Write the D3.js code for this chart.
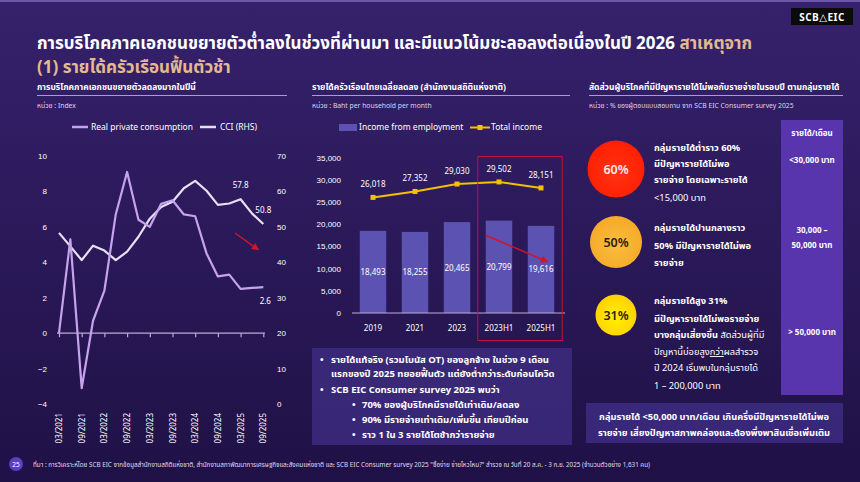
<!DOCTYPE html>
<html>
<head>
<meta charset="utf-8">
<script src="https://cdn.jsdelivr.net/npm/d3@7"></script>
<style>
  html, body { margin: 0; padding: 0; background: #24144f; }
  svg { display: block; font-family: "Noto Sans Thai", "Noto Sans", "DejaVu Sans", sans-serif; }
  .tk { fill: #ffffff; font-size: 8px; }
  .b { font-weight: 700; }
</style>
</head>
<body>
<div id="chart"></div>
<script>
// ---- data ----
const quarters = [
  "03/2021","06/2021","09/2021","12/2021","03/2022","06/2022","09/2022","12/2022",
  "03/2023","06/2023","09/2023","12/2023","03/2024","06/2024","09/2024","12/2024",
  "03/2025","06/2025","09/2025"
];
const consumption = [0.0, 5.3, -3.1, 0.7, 2.4, 6.7, 9.1, 6.4, 6.0, 7.3, 7.5, 6.7, 6.6, 4.5, 3.2, 3.3, 2.5, 2.55, 2.6];
const cci         = [48.3, 44.5, 40.6, 44.7, 43.3, 40.6, 43.0, 47.2, 52.3, 55.6, 57.1, 60.9, 63.0, 60.2, 56.2, 56.6, 57.8, 53.8, 50.8];
const leftTicks   = [-4, -2, 0, 2, 4, 6, 8, 10];
const rightTicks  = [0, 10, 20, 30, 40, 50, 60, 70];

const incomePeriods    = ["2019", "2021", "2023", "2023H1", "2025H1"];
const incomeEmployment = [18493, 18255, 20465, 20799, 19616];
const totalIncome      = [26018, 27352, 29030, 29502, 28151];
const incomeTicks      = [0, 5000, 10000, 15000, 20000, 25000, 30000, 35000];

const surveyGroups = ["low", "mid", "high"];
const surveyShares = [60, 50, 31];

const W = 860, H = 482;
const svg = d3.select("#chart").append("svg").attr("width", W).attr("height", H);
const defs = svg.append("defs");

// background
const bg = defs.append("linearGradient").attr("id", "bg").attr("x1", 0).attr("y1", 0).attr("x2", 0).attr("y2", 1);
bg.append("stop").attr("offset", "0%").attr("stop-color", "#36216c");
bg.append("stop").attr("offset", "100%").attr("stop-color", "#1f1146");
svg.append("rect").attr("width", W).attr("height", H).attr("fill", "url(#bg)");
svg.append("rect").attr("width", W).attr("height", 2).attr("fill", "#6b58a8");

const arrowM = defs.append("marker").attr("id", "arr").attr("viewBox", "0 0 10 10")
  .attr("refX", 8).attr("refY", 5).attr("markerWidth", 5).attr("markerHeight", 5).attr("orient", "auto");
arrowM.append("path").attr("d", "M0,0 L10,5 L0,10 z").attr("fill", "#d0142c");

// logo
svg.append("rect").attr("x", 791).attr("y", 8).attr("width", 62).attr("height", 17).attr("fill", "#0b0b0b");
svg.append("text").attr("x", 822).attr("y", 20.5).attr("text-anchor", "middle")
  .attr("fill", "#fff").attr("font-size", 10).attr("class", "b").attr("letter-spacing", 0.5).text("SCB\u25B3EIC");

// title
const title = svg.append("text").attr("x", 37).attr("y", 49).attr("font-size", 17).attr("class", "b").attr("fill", "#fff");
title.append("tspan").text("การบริโภคภาคเอกชนขยายตัวต่ำลงในช่วงที่ผ่านมา และมีแนวโน้มชะลอลงต่อเนื่องในปี 2026 ");
title.append("tspan").attr("fill", "#e3b98f").text("สาเหตุจาก");
svg.append("text").attr("x", 37).attr("y", 73).attr("font-size", 17).attr("class", "b")
  .attr("fill", "#e3b98f").text("(1) รายได้ครัวเรือนฟื้นตัวช้า");

function panelHead(x, x2, t, unit) {
  svg.append("text").attr("x", x).attr("y", 90).attr("font-size", 8.5).attr("class", "b").attr("fill", "#fff").text(t);
  svg.append("line").attr("x1", x).attr("x2", x2).attr("y1", 95.5).attr("y2", 95.5)
    .attr("stroke", "#a99cd0").attr("stroke-width", 1);
  svg.append("text").attr("x", x).attr("y", 108).attr("font-size", 6.8).attr("fill", "#ddd6ef").text(unit);
}

// ================= LEFT: consumption vs CCI =================
panelHead(37, 287, "การบริโภคภาคเอกชนขยายตัวลดลงมากในปีนี้", "หน่วย : Index");

const xq = d3.scalePoint().domain(quarters).range([59, 263.3]);
const yL = d3.scaleLinear().domain([-4, 10]).range([404, 156]);
const yR = d3.scaleLinear().domain([0, 70]).range([404, 156]);

// legend
const lg = svg.append("g").attr("font-size", 8.5).attr("fill", "#fff");
lg.append("line").attr("x1", 72).attr("x2", 88).attr("y1", 127).attr("y2", 127).attr("stroke", "#c6a3ec").attr("stroke-width", 2.5);
lg.append("text").attr("x", 91).attr("y", 130).text("Real private consumption");
lg.append("line").attr("x1", 200).attr("x2", 216).attr("y1", 127).attr("y2", 127).attr("stroke", "#e6e0f0").attr("stroke-width", 2.5);
lg.append("text").attr("x", 220).attr("y", 130).text("CCI (RHS)");

// y axes as labels
svg.append("g").attr("transform", "translate(47,0)")
  .call(d3.axisLeft(yL).tickValues(leftTicks).tickSize(0).tickPadding(0))
  .call(g => g.select(".domain").remove())
  .selectAll("text").attr("class", "tk").attr("font-family", null);
svg.append("g").attr("transform", "translate(277,0)")
  .call(d3.axisRight(yR).tickValues(rightTicks).tickSize(0).tickPadding(0))
  .call(g => g.select(".domain").remove())
  .selectAll("text").attr("class", "tk").attr("font-family", null);

// zero axis with ticks every 6 months
const xAxisL = svg.append("g").attr("transform", `translate(0,${yL(0)})`)
  .call(d3.axisBottom(xq).tickValues(quarters.filter((q, i) => i % 2 === 0)).tickSize(4).tickFormat(""))
  .call(g => g.select(".domain").attr("d", `M57,0H265`));
xAxisL.selectAll("line, path").attr("stroke", "#b9abd9").attr("stroke-width", 1.2);

// rotated x labels at bottom
svg.append("g").selectAll("text").data(quarters.filter((q, i) => i % 2 === 0)).join("text")
  .attr("class", "tk")
  .attr("transform", d => `translate(${xq(d) + 3},413) rotate(-90)`)
  .attr("text-anchor", "end").text(d => d);

const lineCons = d3.line().x((d, i) => xq(quarters[i])).y(d => yL(d));
const lineCci = d3.line().x((d, i) => xq(quarters[i])).y(d => yR(d));
svg.append("path").datum(cci).attr("d", lineCci).attr("fill", "none")
  .attr("stroke", "#e6e0f0").attr("stroke-width", 2.2).attr("stroke-linejoin", "round");
svg.append("path").datum(consumption).attr("d", lineCons).attr("fill", "none")
  .attr("stroke", "#c6a3ec").attr("stroke-width", 2.2).attr("stroke-linejoin", "round");

const lastI = quarters.length - 1;
const valLab = svg.append("g").attr("class", "tk").attr("font-size", 8.5);
valLab.append("text").attr("x", xq(quarters[16])).attr("y", yR(cci[16]) - 11).attr("text-anchor", "middle").text(cci[16].toFixed(1));
valLab.append("text").attr("x", xq(quarters[lastI])).attr("y", yR(cci[lastI]) - 11).attr("text-anchor", "middle").text(cci[lastI].toFixed(1));
valLab.append("text").attr("x", xq(quarters[lastI]) + 2).attr("y", yL(consumption[lastI]) + 17).attr("text-anchor", "middle").text(consumption[lastI].toFixed(1));

svg.append("line").attr("x1", 235).attr("y1", 233).attr("x2", 258).attr("y2", 249.5)
  .attr("stroke", "#d0142c").attr("stroke-width", 1.5).attr("marker-end", "url(#arr)");

// ================= MIDDLE: household income =================
panelHead(312, 570, "รายได้ครัวเรือนไทยเฉลี่ยลดลง (สำนักงานสถิติแห่งชาติ)", "หน่วย : Baht per household per month");

const xb = d3.scaleBand().domain(incomePeriods).range([352, 562]).paddingInner(0.37).paddingOuter(0.185);
const yI = d3.scaleLinear().domain([0, 35000]).range([313, 157.5]);

// legend
const lg2 = svg.append("g").attr("font-size", 8.5).attr("fill", "#fff");
lg2.append("rect").attr("x", 339).attr("y", 124).attr("width", 18).attr("height", 7).attr("fill", "#5b52b2");
lg2.append("text").attr("x", 359).attr("y", 130).text("Income from employment");
lg2.append("line").attr("x1", 470).attr("x2", 490).attr("y1", 127.5).attr("y2", 127.5).attr("stroke", "#f2c200").attr("stroke-width", 2);
lg2.append("rect").attr("x", 477.5).attr("y", 125).attr("width", 5).attr("height", 5).attr("fill", "#f2c200");
lg2.append("text").attr("x", 491).attr("y", 130).text("Total income");

svg.append("g").attr("transform", "translate(341,0)")
  .call(d3.axisLeft(yI).tickValues(incomeTicks).tickSize(0).tickPadding(0).tickFormat(d3.format(",")))
  .call(g => g.select(".domain").remove())
  .selectAll("text").attr("class", "tk").attr("font-family", null);

svg.append("g").selectAll("rect").data(incomeEmployment).join("rect")
  .attr("x", (d, i) => xb(incomePeriods[i])).attr("width", xb.bandwidth())
  .attr("y", d => yI(d)).attr("height", d => yI(0) - yI(d)).attr("fill", "#5b52b2");

svg.append("line").attr("x1", 352).attr("x2", 565).attr("y1", yI(0)).attr("y2", yI(0))
  .attr("stroke", "#b9abd9").attr("stroke-width", 1.2);

svg.append("g").selectAll("text").data(incomeEmployment).join("text")
  .attr("class", "tk").attr("font-size", 8.5).attr("text-anchor", "middle")
  .attr("x", (d, i) => xb(incomePeriods[i]) + xb.bandwidth() / 2)
  .attr("y", d => (yI(d) + yI(0)) / 2 + 3).text(d3.format(","));

svg.append("g").selectAll("text").data(incomePeriods).join("text")
  .attr("class", "tk").attr("font-size", 8.5).attr("text-anchor", "middle")
  .attr("x", d => xb(d) + xb.bandwidth() / 2).attr("y", 331).text(d => d);

const lineInc = d3.line().x((d, i) => xb(incomePeriods[i]) + xb.bandwidth() / 2).y(d => yI(d));
svg.append("path").datum(totalIncome).attr("d", lineInc).attr("fill", "none").attr("stroke", "#f2c200").attr("stroke-width", 2);
svg.append("g").selectAll("rect").data(totalIncome).join("rect")
  .attr("x", (d, i) => xb(incomePeriods[i]) + xb.bandwidth() / 2 - 2.5).attr("y", d => yI(d) - 2.5)
  .attr("width", 5).attr("height", 5).attr("fill", "#f2c200");
svg.append("g").selectAll("text").data(totalIncome).join("text")
  .attr("class", "tk").attr("font-size", 8.5).attr("text-anchor", "middle")
  .attr("x", (d, i) => xb(incomePeriods[i]) + xb.bandwidth() / 2).attr("y", d => yI(d) - 10).text(d3.format(","));

// highlight box and arrow
svg.append("rect").attr("x", xb("2023H1") - 8).attr("y", 156.5)
  .attr("width", xb("2025H1") + xb.bandwidth() + 8 - (xb("2023H1") - 8)).attr("height", 184)
  .attr("fill", "none").attr("stroke", "#c2133a").attr("stroke-width", 1);
svg.append("line").attr("x1", xb("2023H1")).attr("y1", yI(17500))
  .attr("x2", xb("2025H1") + xb.bandwidth() / 2 + 6).attr("y2", yI(11600))
  .attr("stroke", "#d0142c").attr("stroke-width", 1.5).attr("marker-end", "url(#arr)");

// notes box
svg.append("rect").attr("x", 312).attr("y", 348).attr("width", 260).attr("height", 97).attr("fill", "#3c2b7e").attr("opacity", 0.85);
const notes = [
  { x: 320, tx: 331, y: 363, t: "รายได้แท้จริง (รวมโบนัส OT) ของลูกจ้าง ในช่วง 9 เดือน", bul: true },
  { x: 320, tx: 331, y: 377, t: "แรกของปี 2025 ทยอยฟื้นตัว แต่ยังต่ำกว่าระดับก่อนโควิด", bul: false },
  { x: 320, tx: 331, y: 393, t: "SCB EIC Consumer survey 2025 พบว่า", bul: true },
  { x: 352, tx: 362, y: 408, t: "70% ของผู้บริโภคมีรายได้เท่าเดิม/ลดลง", bul: true },
  { x: 352, tx: 362, y: 423, t: "90% มีรายจ่ายเท่าเดิม/เพิ่มขึ้น เทียบปีก่อน", bul: true },
  { x: 352, tx: 362, y: 438, t: "ราว 1 ใน 3 รายได้โตช้ากว่ารายจ่าย", bul: true }
];
const ng = svg.append("g").attr("fill", "#fff").attr("font-size", 9.5).attr("class", "b");
notes.forEach(n => {
  if (n.bul) ng.append("text").attr("x", n.x).attr("y", n.y).text("•");
  ng.append("text").attr("x", n.tx).attr("y", n.y).text(n.t);
});

// ================= RIGHT: survey shares =================
panelHead(589, 843, "สัดส่วนผู้บริโภคที่มีปัญหารายได้ไม่พอกับรายจ่ายในรอบปี ตามกลุ่มรายได้",
  "หน่วย : % ของผู้ตอบแบบสอบถาม จาก SCB EIC Consumer survey 2025");

svg.append("rect").attr("x", 781).attr("y", 120).attr("width", 62).attr("height", 275).attr("fill", "#5834ad");
const colTxt = [
  { y: 136, t: "รายได้/เดือน" }, { y: 163, t: "<30,000 บาท" },
  { y: 233, t: "30,000 –" }, { y: 248, t: "50,000 บาท" }, { y: 335, t: "> 50,000 บาท" }
];
svg.append("g").selectAll("text").data(colTxt).join("text")
  .attr("x", 812).attr("y", d => d.y).attr("text-anchor", "middle").attr("fill", "#fff")
  .attr("font-size", 8).attr("class", "b").text(d => d.t);

const gradStops = [
  ["#ff3414", "#ff1f00"],
  ["#f9be3e", "#f6a928"],
  ["#fff200", "#ffd000"]
];
gradStops.forEach((s, i) => {
  const g = defs.append("radialGradient").attr("id", "cg" + i).attr("cx", "50%").attr("cy", "55%").attr("r", "55%");
  g.append("stop").attr("offset", "0%").attr("stop-color", s[0]);
  g.append("stop").attr("offset", "100%").attr("stop-color", s[1]);
});

const yC = d3.scalePoint().domain(surveyGroups).range([169, 315]);
const rC = d3.scaleSqrt().domain([0, 60]).range([0, 28.5]);
const circ = svg.append("g").selectAll("g").data(surveyShares).join("g")
  .attr("transform", (d, i) => `translate(616,${yC(surveyGroups[i])})`);
circ.append("circle").attr("r", d => rC(d)).attr("fill", (d, i) => `url(#cg${i})`);
circ.append("text").attr("text-anchor", "middle").attr("y", 4.5).attr("font-size", 12.5).attr("font-weight", 600)
  .attr("fill", (d, i) => i === 0 ? "#fde8e8" : "#2e1c10").text(d => d + "%");

const descr = [
  { y: 151, t: "กลุ่มรายได้ต่ำราว 60%", b: true },
  { y: 167, t: "มีปัญหารายได้ไม่พอ", b: true },
  { y: 183, t: "รายจ่าย โดยเฉพาะรายได้", b: true },
  { y: 201, t: "<15,000 บาท", b: false },
  { y: 231, t: "กลุ่มรายได้ปานกลางราว", b: true },
  { y: 249, t: "50% มีปัญหารายได้ไม่พอ", b: true },
  { y: 266, t: "รายจ่าย", b: true },
  { y: 304, t: "กลุ่มรายได้สูง 31%", b: true },
  { y: 322, t: "มีปัญหารายได้ไม่พอรายจ่าย", b: true }
];
const dg = svg.append("g").attr("fill", "#fff").attr("font-size", 9.3);
descr.forEach(d => dg.append("text").attr("x", 654).attr("y", d.y).attr("font-weight", d.b ? 700 : 400).text(d.t));
const l3 = dg.append("text").attr("x", 654).attr("y", 338);
l3.append("tspan").attr("font-weight", 700).text("บางกลุ่มเสี่ยงขึ้น ");
l3.append("tspan").text("สัดส่วนผู้ที่มี");
const l4 = dg.append("text").attr("x", 654).attr("y", 355);
l4.append("tspan").text("ปัญหานี้บ่อยสูง");
l4.append("tspan").attr("text-decoration", "underline").text("กว่า");
l4.append("tspan").text("ผลสำรวจ");
dg.append("text").attr("x", 654).attr("y", 371).text("ปี 2024 เริ่มพบในกลุ่มรายได้");
dg.append("text").attr("x", 654).attr("y", 389).text("1 – 200,000 บาท");

svg.append("rect").attr("x", 586).attr("y", 403).attr("width", 257).attr("height", 40).attr("fill", "#3c2b7e").attr("opacity", 0.9);
svg.append("text").attr("x", 714).attr("y", 420).attr("text-anchor", "middle").attr("fill", "#fff")
  .attr("font-size", 9.3).attr("class", "b").text("กลุ่มรายได้ <50,000 บาท/เดือน เกินครึ่งมีปัญหารายได้ไม่พอ");
svg.append("text").attr("x", 714).attr("y", 436).attr("text-anchor", "middle").attr("fill", "#fff")
  .attr("font-size", 9.3).attr("class", "b").text("รายจ่าย เสี่ยงปัญหาสภาพคล่องและต้องพึ่งพาสินเชื่อเพิ่มเติม");

// ================= footer =================
svg.append("circle").attr("cx", 16).attr("cy", 464).attr("r", 7).attr("fill", "#5b3fc2");
svg.append("text").attr("x", 16).attr("y", 466.5).attr("text-anchor", "middle").attr("fill", "#fff")
  .attr("font-size", 6.5).text("25");
svg.append("text").attr("x", 33).attr("y", 466.5).attr("fill", "#e0dbee").attr("font-size", 6.3)
  .text("ที่มา : การวิเคราะห์โดย SCB EIC จากข้อมูลสำนักงานสถิติแห่งชาติ, สำนักงานสภาพัฒนาการเศรษฐกิจและสังคมแห่งชาติ และ SCB EIC Consumer survey 2025 \"ซื้อง่าย จ่ายไหวไหม?\" สำรวจ ณ วันที่ 20 ส.ค. - 3 ก.ย. 2025 (จำนวนตัวอย่าง 1,631 คน)");
</script>
</body>
</html>
